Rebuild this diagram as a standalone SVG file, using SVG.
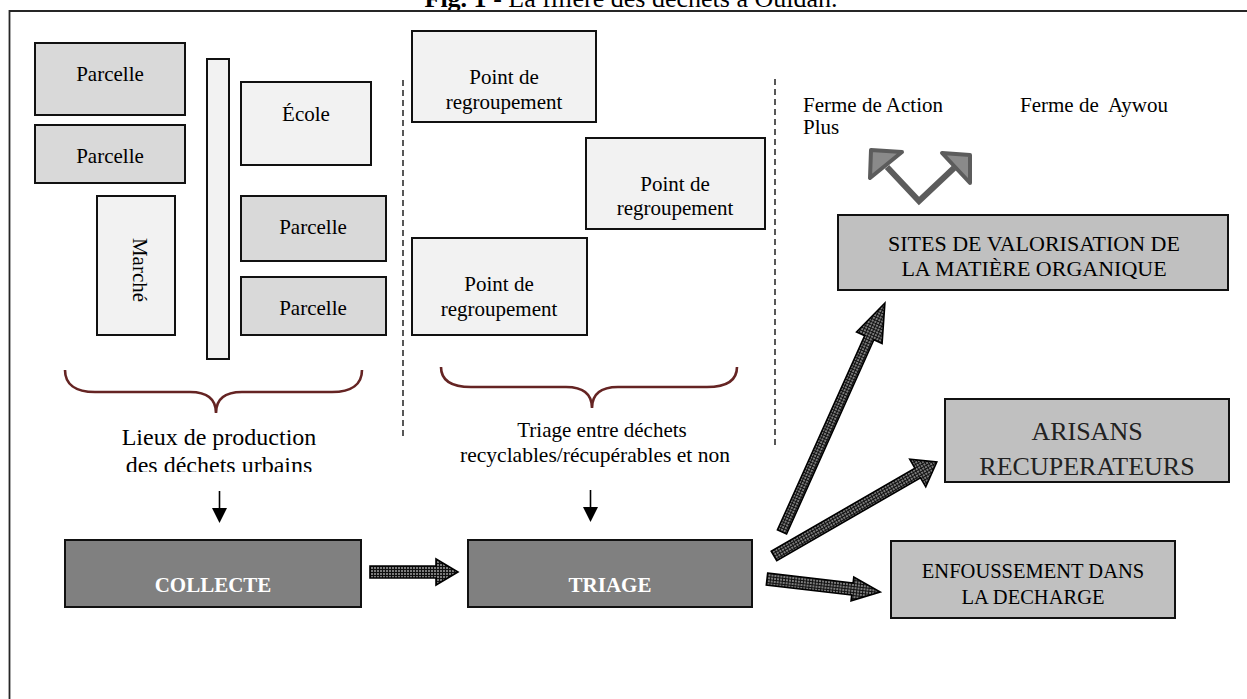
<svg xmlns="http://www.w3.org/2000/svg" width="1247" height="699" viewBox="0 0 1247 699">
<defs>
<style>
text{font-family:"Liberation Serif","Times New Roman",serif;fill:#000}
.box{stroke:#111;stroke-width:2}
.pale{fill:#f2f2f2}
.light{fill:#d9d9d9}
.mid{fill:#c0c0c0}
.dark{fill:#808080}
.t21{font-size:21px;text-anchor:middle}
.brace{fill:none;stroke:#652423;stroke-width:2.6}
.dash{stroke:#111;stroke-width:1.4;stroke-dasharray:6,4;fill:none}
.hatch{fill:url(#hatch);stroke:#000;stroke-width:1.6;stroke-linejoin:miter}
</style>
<pattern id="hatch" patternUnits="userSpaceOnUse" width="3" height="3">
<rect width="3" height="3" fill="#7c7c7c"/>
<path d="M0,0.5H3M0.5,0V3" stroke="#111" stroke-width="1"/>
</pattern>
<marker id="ah" markerWidth="16" markerHeight="16" refX="0" refY="0" viewBox="-1 -8 16 16" orient="auto" markerUnits="userSpaceOnUse">
<path d="M0,-7.5 L15,0 L0,7.5 Z" fill="#000"/>
</marker>
<clipPath id="clipLieux"><rect x="0" y="420" width="420" height="52"/></clipPath>
</defs>

<text x="631" y="7" font-size="26" text-anchor="middle"><tspan font-weight="bold">Fig. 1</tspan> - La filière des déchets à Ouidah.</text>
<path d="M9.5,699 V11 H1247" fill="none" stroke="#262626" stroke-width="1.8"/>

<g id="parcelle1"><rect class="box light" x="35" y="43" width="150" height="72"/><text class="t21" x="110" y="81">Parcelle</text></g>
<g id="parcelle2"><rect class="box light" x="35" y="125" width="150" height="58"/><text class="t21" x="110" y="163">Parcelle</text></g>
<g id="marche"><rect class="box pale" x="97" y="196" width="78" height="139"/><text class="t21" transform="translate(133,270) rotate(90)">Marché</text></g>
<g id="route"><rect class="box pale" x="207" y="59" width="22" height="300"/></g>
<g id="ecole"><rect class="box pale" x="241" y="82" width="130" height="83"/><text class="t21" x="306" y="121">École</text></g>
<g id="parcelle3"><rect class="box light" x="241" y="196" width="145" height="65"/><text class="t21" x="313" y="234">Parcelle</text></g>
<g id="parcelle4"><rect class="box light" x="241" y="277" width="145" height="58"/><text class="t21" x="313" y="315">Parcelle</text></g>

<g id="separateurs">
<path class="dash" d="M403,80 V438"/>
<path class="dash" d="M775,79 V448"/>
</g>

<g id="point1"><rect class="box pale" x="412" y="31" width="184" height="91"/><text class="t21" x="504" y="84">Point de</text><text class="t21" x="504" y="109">regroupement</text></g>
<g id="point2"><rect class="box pale" x="586" y="138" width="179" height="91"/><text class="t21" x="675" y="191">Point de</text><text class="t21" x="675" y="215">regroupement</text></g>
<g id="point3"><rect class="box pale" x="412" y="238" width="175" height="97"/><text class="t21" x="499" y="291">Point de</text><text class="t21" x="499" y="316">regroupement</text></g>

<g id="accolade1">
<path class="brace" d="M65,370 C65,384 75,392 95,392 L190,392 C207,392 216,399 216,413 C216,399 225,392 242,392 L332,392 C352,392 362,384 362,370"/>
<text x="219" y="445" font-size="24" text-anchor="middle">Lieux de production</text>
<text x="219" y="473" font-size="24" text-anchor="middle" clip-path="url(#clipLieux)">des déchets urbains</text>
</g>
<g id="accolade2">
<path class="brace" d="M441,367 C441,380 451,387 471,387 L566,387 C583,387 592,394 592,408 C592,394 601,387 618,387 L707,387 C727,387 737,380 737,367"/>
<text x="602" y="437" font-size="21" text-anchor="middle">Triage entre déchets</text>
<text x="595" y="462" font-size="21.5" text-anchor="middle">recyclables/récupérables et non</text>
</g>

<g id="collecte"><rect class="box dark" x="65" y="540" width="296" height="67"/><text x="213" y="592" font-size="21" font-weight="bold" text-anchor="middle" style="fill:#fff">COLLECTE</text></g>
<g id="triage"><rect class="box dark" x="468" y="540" width="284" height="67"/><text x="610" y="592" font-size="21" font-weight="bold" text-anchor="middle" style="fill:#fff">TRIAGE</text></g>

<g id="sites"><rect class="box mid" x="838" y="215" width="390" height="75"/><text x="1034" y="251" font-size="22" text-anchor="middle">SITES DE VALORISATION DE</text><text x="1034" y="276" font-size="22" text-anchor="middle">LA MATIÈRE ORGANIQUE</text></g>
<g id="artisans"><rect class="box mid" x="945" y="399" width="284" height="83"/><text x="1087" y="440" font-size="26" text-anchor="middle" style="fill:#222">ARISANS</text><text x="1087" y="475" font-size="26" text-anchor="middle" style="fill:#222">RECUPERATEURS</text></g>
<g id="enfouissement"><rect class="box mid" x="891" y="541" width="284" height="77"/><text x="1033" y="578" font-size="20.5" text-anchor="middle">ENFOUSSEMENT DANS</text><text x="1033" y="604" font-size="20.5" text-anchor="middle">LA DECHARGE</text></g>

<g id="fermes">
<text x="803" y="112" font-size="21">Ferme de Action</text>
<text x="803" y="134" font-size="21">Plus</text>
<text x="1020" y="112" font-size="21" style="white-space:pre">Ferme de  Aywou</text>
</g>

<g id="connecteurs">
<path d="M219.5,491 V508" stroke="#000" stroke-width="1.6" marker-end="url(#ah)"/>
<path d="M590.5,490 V507" stroke="#000" stroke-width="1.6" marker-end="url(#ah)"/>
<polygon class="hatch" transform="translate(370,572)" points="0,-6 66,-6 66,-13 88,0 66,13 66,6 0,6"/>
<polygon class="hatch" transform="translate(782,532) rotate(-65.8)" points="0,-5 213,-5 213,-14 251,0 213,14 213,5 0,5"/>
<polygon class="hatch" transform="translate(774,556) rotate(-30)" points="0,-5.5 166,-5.5 166,-16 188,0 166,16 166,5.5 0,5.5"/>
<polygon class="hatch" transform="translate(767,579) rotate(6.6)" points="0,-6 86,-6 86,-12 114,0 86,12 86,6 0,6"/>
<path d="M887,167 L919,201 L954,168" fill="none" stroke="#5c5c5c" stroke-width="6" stroke-linejoin="miter"/>
<polygon points="871,150 902,152 870,178" fill="#8a8a8a" stroke="#5c5c5c" stroke-width="4" stroke-linejoin="round"/>
<polygon points="942,153 970,155 970,183" fill="#8a8a8a" stroke="#5c5c5c" stroke-width="4" stroke-linejoin="round"/>
</g>
</svg>
